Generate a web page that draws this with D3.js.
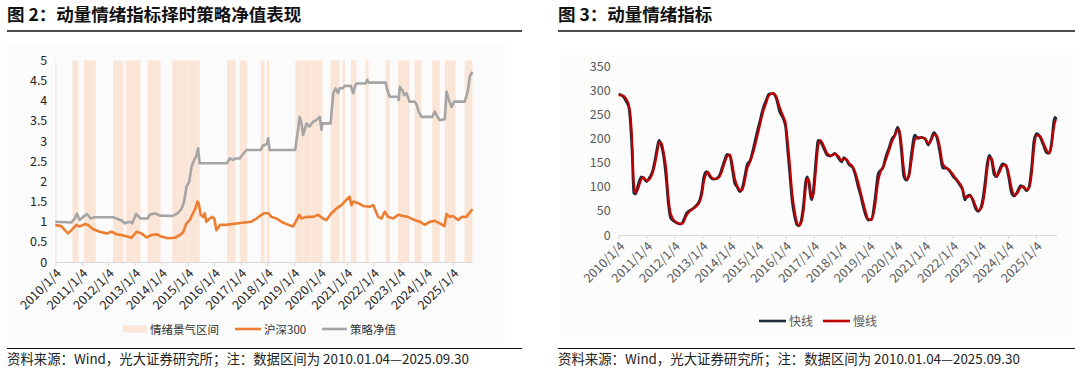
<!DOCTYPE html>
<html>
<head>
<meta charset="utf-8">
<script src="https://cdn.jsdelivr.net/npm/d3@7"></script>
<style>
  body { margin: 0; background: #fff; }
  svg text { font-family: "Noto Sans CJK SC", "Noto Sans", sans-serif; }
</style>
</head>
<body>
<svg id="chart" width="1080" height="370"></svg>
<script>
// ---- 图2 data ----
const bandRanges = [
  ["2010-01-04", "2010-01-20"], ["2010-08-28", "2010-11-20"], ["2011-02-02", "2011-07-15"],
  ["2012-03-10", "2012-08-02"], ["2012-09-01", "2013-03-25"], ["2013-06-28", "2013-12-25"],
  ["2014-06-05", "2014-10-03"], ["2014-10-08", "2015-01-14"], ["2015-01-19", "2015-06-17"],
  ["2016-06-28", "2016-10-22"], ["2016-12-20", "2017-04-01"], ["2017-10-05", "2017-11-28"],
  ["2017-12-28", "2018-02-05"], ["2019-01-25", "2019-05-10"], ["2019-05-15", "2019-09-05"],
  ["2019-09-10", "2020-02-02"], ["2020-05-25", "2020-09-26"], ["2020-11-05", "2020-12-10"],
  ["2021-03-01", "2021-05-15"], ["2021-09-20", "2021-10-30"], ["2022-06-25", "2022-08-18"],
  ["2022-12-10", "2023-05-18"], ["2023-07-26", "2023-10-30"], ["2024-03-25", "2024-07-08"],
  ["2024-09-15", "2025-02-10"], ["2025-06-15", "2025-09-30"]
];

const hs300Dates = [
  "2010-01-04", "2010-03-28", "2010-05-15", "2010-06-28", "2010-08-15", "2010-10-22", "2010-12-05",
  "2011-02-14", "2011-04-01", "2011-06-05", "2011-09-08", "2011-12-10", "2012-02-18", "2012-04-25",
  "2012-07-05", "2012-09-20", "2012-11-17", "2013-01-27", "2013-04-05", "2013-06-15", "2013-08-22",
  "2013-10-30", "2014-01-04", "2014-04-05", "2014-07-08", "2014-09-15", "2014-10-30", "2014-12-17",
  "2015-01-30", "2015-03-17", "2015-04-20", "2015-05-15", "2015-06-03", "2015-07-01", "2015-08-05",
  "2015-08-25", "2015-09-16", "2015-11-03", "2015-12-05", "2016-01-04", "2016-02-03", "2016-03-22",
  "2016-05-25", "2016-08-28", "2016-11-28", "2017-05-30", "2017-08-08", "2017-10-15", "2017-11-22",
  "2018-01-20", "2018-03-02", "2018-05-10", "2018-07-15", "2018-09-25", "2018-12-25", "2019-02-10",
  "2019-03-20", "2019-04-20", "2019-06-28", "2019-09-27", "2019-12-05", "2020-02-10", "2020-03-28",
  "2020-06-05", "2020-08-15", "2020-10-22", "2020-12-05", "2021-02-10", "2021-03-08", "2021-04-01",
  "2021-06-10", "2021-08-15", "2021-11-18", "2022-01-04", "2022-03-10", "2022-04-27", "2022-06-10",
  "2022-07-26", "2022-10-05", "2022-12-10", "2023-02-18", "2023-04-25", "2023-07-26", "2023-10-05",
  "2023-12-15", "2024-02-22", "2024-05-01", "2024-07-08", "2024-09-10", "2024-10-08", "2024-11-20",
  "2025-01-06", "2025-03-17", "2025-05-10", "2025-07-08", "2025-09-30"
];
const hs300Values = [
  0.92, 0.89, 0.79, 0.71, 0.79, 0.92, 0.88,
  0.94, 0.92, 0.82, 0.75, 0.71, 0.75, 0.69,
  0.67, 0.63, 0.60, 0.75, 0.71, 0.61, 0.67,
  0.69, 0.63, 0.59, 0.60, 0.67, 0.73, 0.96,
  1.04, 1.21, 1.33, 1.50, 1.46, 1.17, 1.12,
  1.21, 1.00, 1.08, 1.12, 1.08, 0.79, 0.92,
  0.92, 0.94, 0.96, 1.00, 1.08, 1.17, 1.21,
  1.21, 1.12, 1.08, 1.00, 0.94, 0.88, 1.04,
  1.17, 1.08, 1.12, 1.12, 1.17, 1.08, 1.04,
  1.21, 1.33, 1.41, 1.50, 1.62, 1.41, 1.50,
  1.46, 1.39, 1.37, 1.41, 1.12, 1.08, 1.25,
  1.12, 1.08, 1.17, 1.14, 1.12, 1.04, 1.00,
  0.92, 1.00, 1.02, 0.96, 0.89, 1.19, 1.12,
  1.14, 1.04, 1.12, 1.12, 1.31
];

const navDates = [
  "2010-01-04", "2010-08-15", "2010-09-28", "2010-10-30", "2010-12-05", "2011-01-22", "2011-03-17",
  "2011-05-05", "2011-07-01", "2012-03-10", "2012-04-25", "2012-07-05", "2012-08-18", "2012-10-27",
  "2012-12-01", "2013-01-20", "2013-03-03", "2013-03-25", "2013-06-28", "2013-07-27", "2013-10-05",
  "2013-12-15", "2014-06-05", "2014-07-08", "2014-08-22", "2014-10-08", "2014-11-14", "2014-12-17",
  "2015-01-23", "2015-02-25", "2015-04-01", "2015-05-01", "2015-05-26", "2015-06-16", "2016-06-28",
  "2016-08-03", "2016-09-20", "2016-10-20", "2016-12-20", "2017-01-12", "2017-03-22", "2017-04-01",
  "2017-10-05", "2017-11-08", "2017-11-28", "2017-12-28", "2018-01-15", "2018-02-05", "2019-01-25",
  "2019-02-10", "2019-03-03", "2019-03-25", "2019-04-20", "2019-05-12", "2019-06-28", "2019-08-10",
  "2019-09-27", "2019-11-10", "2019-12-28", "2020-01-20", "2020-02-02", "2020-05-25", "2020-06-10",
  "2020-07-01", "2020-08-03", "2020-09-05", "2020-09-26", "2020-11-05", "2020-12-10", "2021-03-01",
  "2021-03-15", "2021-04-01", "2021-04-25", "2021-05-15", "2021-09-20", "2021-10-12", "2021-10-30",
  "2022-06-25", "2022-07-10", "2022-08-18", "2022-12-10", "2022-12-20", "2023-01-04", "2023-02-06",
  "2023-03-03", "2023-04-05", "2023-05-18", "2023-07-26", "2023-08-25", "2023-09-20", "2023-10-30",
  "2024-03-25", "2024-04-30", "2024-06-05", "2024-07-08", "2024-09-15", "2024-09-27", "2024-10-08",
  "2024-11-10", "2024-12-16", "2025-01-22", "2025-02-10", "2025-06-15", "2025-07-08", "2025-08-01",
  "2025-08-25", "2025-09-30"
];
const navValues = [
  1.00, 0.98, 1.08, 1.20, 1.04, 1.12, 1.19,
  1.08, 1.11, 1.11, 1.08, 1.03, 0.96, 1.00,
  0.96, 1.19, 1.12, 1.08, 1.08, 1.17, 1.21,
  1.15, 1.14, 1.17, 1.22, 1.31, 1.50, 1.87,
  1.99, 2.37, 2.53, 2.63, 2.82, 2.45, 2.45,
  2.57, 2.53, 2.57, 2.57, 2.63, 2.78, 2.78,
  2.78, 2.90, 2.90, 2.93, 3.07, 2.78, 2.78,
  3.03, 3.28, 3.60, 3.44, 3.15, 3.44, 3.36,
  3.48, 3.52, 3.60, 3.28, 3.44, 3.44, 3.77,
  4.19, 4.31, 4.19, 4.31, 4.31, 4.37, 4.37,
  4.27, 4.19, 4.35, 4.43, 4.43, 4.52, 4.45,
  4.45, 4.30, 4.10, 4.10, 4.02, 4.35, 4.27,
  4.14, 4.19, 3.98, 3.98, 3.90, 3.73, 3.60,
  3.60, 3.73, 3.60, 3.52, 3.54, 3.90, 4.23,
  4.02, 3.85, 3.98, 3.98, 3.98, 4.10, 4.27,
  4.60, 4.72
];
const navTicks = [0, 0.5, 1, 1.5, 2, 2.5, 3, 3.5, 4, 4.5, 5];

// ---- 图3 data ----
const lineDates = [
  "2010-01-04", "2010-03-03", "2010-04-15", "2010-05-15", "2010-06-10", "2010-07-01", "2010-07-20",
  "2010-08-15", "2010-09-15", "2010-10-28", "2010-11-28", "2011-01-04", "2011-02-07", "2011-03-22",
  "2011-04-20", "2011-05-22", "2011-06-17", "2011-07-17", "2011-08-17", "2011-09-21", "2011-10-17",
  "2011-11-17", "2012-01-04", "2012-02-22", "2012-04-05", "2012-05-05", "2012-06-10", "2012-07-23",
  "2012-09-05", "2012-10-20", "2012-12-03", "2013-01-04", "2013-01-25", "2013-03-01", "2013-03-23",
  "2013-04-22", "2013-06-05", "2013-07-18", "2013-08-22", "2013-09-26", "2013-10-26", "2013-11-26",
  "2014-01-04", "2014-02-05", "2014-03-08", "2014-04-07", "2014-05-12", "2014-06-12", "2014-07-16",
  "2014-08-16", "2014-09-28", "2014-11-02", "2014-12-16", "2015-01-30", "2015-03-13", "2015-04-25",
  "2015-05-30", "2015-07-22", "2015-09-04", "2015-10-18", "2015-12-01", "2016-01-04", "2016-01-27",
  "2016-02-27", "2016-03-28", "2016-05-02", "2016-06-02", "2016-06-28", "2016-07-28", "2016-08-28",
  "2016-09-23", "2016-10-16", "2016-11-06", "2016-11-28", "2016-12-16", "2017-01-10", "2017-02-05",
  "2017-03-07", "2017-04-06", "2017-05-20", "2017-07-02", "2017-08-15", "2017-10-12", "2017-11-25",
  "2018-01-08", "2018-02-07", "2018-03-14", "2018-04-18", "2018-06-01", "2018-07-01", "2018-08-14",
  "2018-09-14", "2018-10-19", "2018-11-23", "2018-12-24", "2019-02-06", "2019-03-21", "2019-05-04",
  "2019-06-08", "2019-07-08", "2019-08-12", "2019-09-20", "2019-11-03", "2019-12-08", "2020-01-13",
  "2020-02-04", "2020-03-06", "2020-04-05", "2020-05-10", "2020-06-10", "2020-07-14", "2020-08-27",
  "2020-10-10", "2020-11-23", "2021-01-07", "2021-02-20", "2021-03-22", "2021-05-05", "2021-06-09",
  "2021-07-23", "2021-08-27", "2021-10-18", "2021-12-01", "2022-01-14", "2022-02-26", "2022-04-10",
  "2022-05-15", "2022-06-15", "2022-07-16", "2022-08-20", "2022-09-24", "2022-11-02", "2022-12-07",
  "2023-01-20", "2023-03-05", "2023-04-04", "2023-05-01", "2023-06-01", "2023-07-05", "2023-08-05",
  "2023-09-10", "2023-10-23", "2023-12-06", "2024-01-10", "2024-02-18", "2024-03-25", "2024-05-03",
  "2024-06-17", "2024-07-22", "2024-09-03", "2024-10-04", "2024-11-08", "2024-12-09", "2025-01-13",
  "2025-02-26", "2025-04-10", "2025-05-24", "2025-06-28", "2025-07-28", "2025-08-28", "2025-09-12",
  "2025-09-30"
];
const fastLine = [
  293, 288, 277, 267, 225, 163, 87,
  85, 104, 121, 118, 111, 118, 132,
  152, 180, 197, 187, 163, 114, 66,
  35, 28, 24, 23, 31, 45, 51,
  55, 62, 73, 97, 121, 132, 128,
  120, 116, 118, 125, 142, 156, 168,
  164, 135, 107, 100, 90, 97, 121,
  146, 156, 177, 208, 236, 263, 281,
  293, 294, 284, 256, 243, 225, 184,
  128, 73, 38, 21, 19, 31, 66,
  111, 121, 107, 80, 73, 105, 156,
  197, 194, 180, 166, 164, 170, 161,
  152, 161, 156, 146, 141, 128, 100,
  83, 59, 40, 31, 33, 73, 128,
  135, 142, 163, 180, 201, 208, 224,
  215, 170, 121, 114, 125, 170, 208,
  201, 203, 200, 187, 197, 213, 204,
  170, 139, 139, 132, 121, 114, 104,
  94, 73, 81, 83, 73, 55, 49,
  62, 107, 149, 166, 156, 125, 121,
  135, 148, 144, 121, 87, 81, 90,
  103, 100, 92, 100, 142, 197, 211,
  204, 187, 171, 170, 194, 239, 245,
  240
];
const slowLine = [
  291, 290, 282, 272, 245, 190, 112,
  88, 96, 116, 120, 113, 115, 127,
  144, 170, 190, 192, 172, 135, 82,
  45, 30, 25, 23, 27, 40, 49,
  54, 60, 69, 87, 110, 128, 131,
  123, 117, 117, 122, 135, 150, 163,
  167, 146, 118, 103, 94, 93, 111,
  137, 153, 170, 197, 227, 255, 275,
  290, 295, 288, 266, 248, 233, 202,
  150, 92, 50, 26, 20, 26, 52,
  95, 118, 114, 90, 77, 90, 135,
  185, 197, 185, 170, 165, 168, 164,
  155, 158, 158, 149, 143, 133, 110,
  90, 68, 47, 33, 31, 58, 112,
  133, 140, 156, 174, 195, 206, 218,
  219, 186, 138, 116, 121, 155, 198,
  203, 202, 201, 191, 194, 209, 207,
  182, 149, 139, 134, 125, 116, 107,
  97, 80, 78, 82, 76, 61, 51,
  57, 92, 135, 160, 160, 135, 122,
  130, 144, 146, 129, 98, 83, 87,
  99, 101, 94, 97, 127, 180, 207,
  206, 192, 176, 170, 186, 224, 236,
  238
];
const lineTicks = [0, 50, 100, 150, 200, 250, 300, 350];

const yearTicks = [
  "2010-01-04", "2011-01-04", "2012-01-04", "2013-01-04", "2014-01-04", "2015-01-04",
  "2016-01-04", "2017-01-04", "2018-01-04", "2019-01-04", "2020-01-04", "2021-01-04",
  "2022-01-04", "2023-01-04", "2024-01-04", "2025-01-04"
];

const parse = d3.timeParse("%Y-%m-%d");
const fmtTick = d3.timeFormat("%Y/%-m/%-d");
const startDate = parse("2010-01-04");
const endDate = parse("2025-09-30");
const svg = d3.select("#chart");

// header / footer for each panel
function frame(x0, x1, title) {
  svg.append("text").attr("x", x0).attr("y", 21)
    .style("font-size", "17.5px").style("font-weight", "bold").attr("fill", "#111")
    .text(title);
  svg.append("line").attr("x1", x0).attr("x2", x1).attr("y1", 31).attr("y2", 31)
    .attr("stroke", "#111").attr("stroke-width", 1.5);
  svg.append("line").attr("x1", x0).attr("x2", x1).attr("y1", 348.5).attr("y2", 348.5)
    .attr("stroke", "#111").attr("stroke-width", 1);
  svg.append("text").attr("x", x0).attr("y", 363.5)
    .style("font-size", "13.4px").attr("fill", "#222")
    .text("资料来源：Wind，光大证券研究所；注：数据区间为 2010.01.04—2025.09.30");
}

function xAxis(x, y0, color) {
  const ax = svg.append("g").attr("transform", `translate(0,${y0})`)
    .call(d3.axisBottom(x).tickValues(yearTicks.map(parse)).tickFormat(fmtTick)
      .tickSize(4).tickSizeOuter(0));
  ax.select(".domain").attr("stroke", "#d9d9d9");
  ax.selectAll(".tick line").attr("stroke", "#d9d9d9");
  ax.selectAll(".tick text")
    .attr("y", 0).attr("dy", "0.35em")
    .attr("transform", "translate(3,9) rotate(-45)")
    .style("text-anchor", "end").style("font-size", "12.5px").attr("fill", color);
}

function yAxis(y, xPos, ticks, color) {
  const ax = svg.append("g").attr("transform", `translate(${xPos},0)`)
    .call(d3.axisLeft(y).tickValues(ticks).tickFormat(d => String(d)).tickSize(0).tickPadding(8));
  ax.select(".domain").remove();
  ax.selectAll(".tick text").style("font-size", "12.5px").attr("fill", color);
}

// ===== 图2 =====
frame(7, 522, "图 2：动量情绪指标择时策略净值表现");
svg.append("rect").attr("x", 7).attr("y", 45).attr("width", 498).attr("height", 298)
  .attr("fill", "#fbfbfb");

const x2 = d3.scaleTime().domain([startDate, endDate]).range([55.3, 472.4]);
const y2 = d3.scaleLinear().domain([0, 5]).range([262, 60.5]);

svg.append("g").selectAll("rect").data(bandRanges).join("rect")
  .attr("x", d => x2(parse(d[0])))
  .attr("width", d => Math.max(1, x2(parse(d[1])) - x2(parse(d[0]))))
  .attr("y", y2(5)).attr("height", y2(0) - y2(5))
  .attr("fill", "#fbe5d6");

xAxis(x2, 262, "#262626");
yAxis(y2, 55.3, navTicks, "#262626");

const hs300 = hs300Dates.map((d, i) => ({ date: parse(d), v: hs300Values[i] }));
const nav = navDates.map((d, i) => ({ date: parse(d), v: navValues[i] }));
const line2 = d3.line().x(d => x2(d.date)).y(d => y2(d.v));

svg.append("path").datum(hs300).attr("d", line2).attr("fill", "none")
  .attr("stroke", "#ed7d31").attr("stroke-width", 2.6).attr("stroke-linejoin", "round");
svg.append("path").datum(nav).attr("d", line2).attr("fill", "none")
  .attr("stroke", "#a5a5a5").attr("stroke-width", 2.6).attr("stroke-linejoin", "round");

// legend
const lg2 = svg.append("g").style("font-size", "11.5px");
lg2.append("rect").attr("x", 123).attr("y", 325.5).attr("width", 24).attr("height", 7).attr("fill", "#fbe5d6");
lg2.append("text").attr("x", 150).attr("y", 333.5).attr("fill", "#333").text("情绪景气区间");
lg2.append("line").attr("x1", 235).attr("x2", 261).attr("y1", 329).attr("y2", 329)
  .attr("stroke", "#ed7d31").attr("stroke-width", 2.6);
lg2.append("text").attr("x", 264).attr("y", 333.5).attr("fill", "#333").text("沪深300");
lg2.append("line").attr("x1", 322).attr("x2", 347).attr("y1", 329).attr("y2", 329)
  .attr("stroke", "#a5a5a5").attr("stroke-width", 2.6);
lg2.append("text").attr("x", 350).attr("y", 333.5).attr("fill", "#333").text("策略净值");

// ===== 图3 =====
frame(558, 1075, "图 3：动量情绪指标");
svg.append("rect").attr("x", 560).attr("y", 50).attr("width", 513).attr("height", 293)
  .attr("fill", "#fcfcfc");

const x3 = d3.scaleTime().domain([startDate, endDate]).range([618.7, 1056.5]);
const y3 = d3.scaleLinear().domain([0, 350]).range([235, 66.7]);

xAxis(x3, 235, "#595959");
yAxis(y3, 618.7, lineTicks, "#595959");

const fast = lineDates.map((d, i) => ({ date: parse(d), v: fastLine[i] }));
const slow = lineDates.map((d, i) => ({ date: parse(d), v: slowLine[i] }));
const line3 = d3.line().x(d => x3(d.date)).y(d => y3(d.v)).curve(d3.curveMonotoneX);

svg.append("path").datum(fast).attr("d", line3).attr("fill", "none")
  .attr("stroke", "#1f2a3a").attr("stroke-width", 2.6);
svg.append("path").datum(slow).attr("d", line3).attr("fill", "none")
  .attr("stroke", "#c00000").attr("stroke-width", 2.2);

const lg3 = svg.append("g").style("font-size", "12px");
lg3.append("line").attr("x1", 759).attr("x2", 786).attr("y1", 321).attr("y2", 321)
  .attr("stroke", "#1f2a3a").attr("stroke-width", 2.6);
lg3.append("text").attr("x", 789).attr("y", 325.5).attr("fill", "#595959").text("快线");
lg3.append("line").attr("x1", 823).attr("x2", 850).attr("y1", 321).attr("y2", 321)
  .attr("stroke", "#c00000").attr("stroke-width", 2.6);
lg3.append("text").attr("x", 853).attr("y", 325.5).attr("fill", "#595959").text("慢线");
</script>
</body>
</html>
